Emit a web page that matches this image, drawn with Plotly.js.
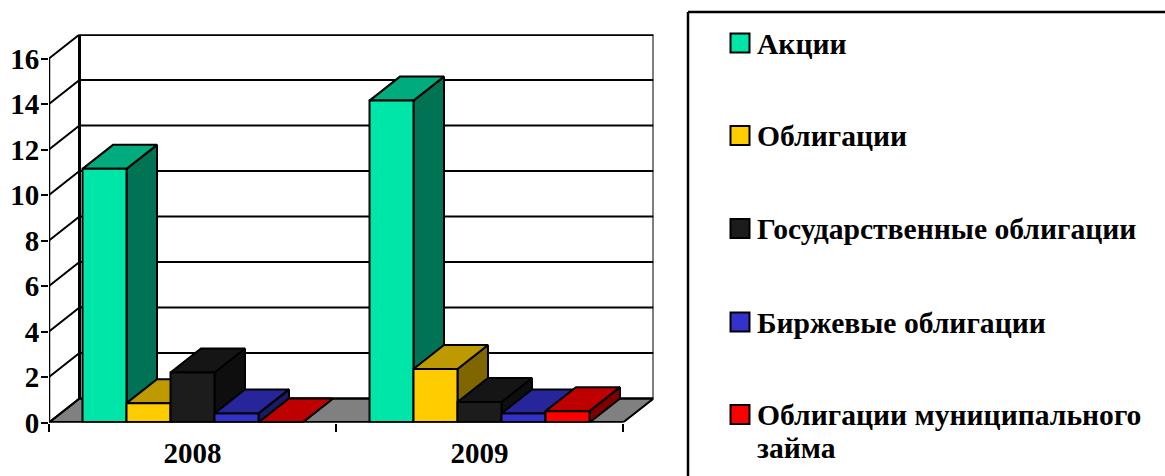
<!DOCTYPE html>
<html><head><meta charset="utf-8">
<script src="https://cdn.plot.ly/plotly-3.0.1.min.js"></script>
<style>html,body{margin:0;padding:0;background:#fff;overflow:hidden}</style>
</head><body><div id="chart" style="width:1165px;height:476px"></div>
<script>
const years = ['2008', '2009'];
const seriesNames = ['Акции', 'Облигации', 'Государственные облигации', 'Биржевые облигации', 'Облигации муниципального<br>займа'];
const aktsii = [11.15, 14.15];
const obligatsii = [0.85, 2.35];
const gosudarstvennye = [2.2, 0.9];
const birzhevye = [0.4, 0.4];
const munitsipalnye = [0, 0.5];
const seriesValues = [aktsii, obligatsii, gosudarstvennye, birzhevye, munitsipalnye];
const frontColors = ['#00E6A8', '#FFCC00', '#1C1C1C', '#3333CC', '#FF0000'];
const topColors = ['#00AC7E', '#BF9900', '#151515', '#26269A', '#BF0000'];
const sideColors = ['#007354', '#806600', '#0E0E0E', '#1A1A66', '#800000'];
const yTicks = [0, 2, 4, 6, 8, 10, 12, 14, 16];
const legendRows = [43, 135.5, 228.5, 322, 414.5];

const W = 1165, H = 476;
const left = 49, bottom = 422.5, catPx = 287, unitPx = 22.75, depthX = 30.5, depthY = 24;
const dx = depthX / catPx, dy = depthY / unitPx;
const xMax = years.length + dx, yMax = 16 + dy;
const barW = 44 / catPx;
const font = 'Liberation Serif, Times New Roman, serif';

function poly(xs, ys, fill, width) {
  return {type:'scatter', mode:'lines', x:xs, y:ys, fill:'toself', fillcolor:fill,
    line:{color:'#000', width:width||2}, hoverinfo:'skip', showlegend:false, cliponaxis:false};
}
function path(xs, ys, width, axes) {
  const t = {type:'scatter', mode:'lines', x:xs, y:ys, line:{color:'#000', width:width},
    hoverinfo:'skip', showlegend:false, cliponaxis:false};
  if (axes) { t.xaxis = 'x2'; t.yaxis = 'y2'; }
  return t;
}

const traces = [];
// floor
traces.push(poly([0, years.length, xMax, dx, 0], [0, 0, dy, dy, 0], '#808080', 2));
// back and side wall gridlines
const gx = [], gy = [];
yTicks.forEach(v => {
  gx.push(0, dx, xMax, null);
  gy.push(v, v + dy, v + dy, null);
});
traces.push(path(gx, gy, 2));
// walls' frame
traces.push(path([dx, dx], [dy, yMax], 3));
traces.push(path([dx, xMax], [yMax, yMax], 3));
traces.push(path([xMax, xMax], [dy, yMax], 2));

// depth faces, painted left to right
years.forEach((yr, j) => {
  seriesValues.forEach((vals, s) => {
    const x0 = j + 0.5 - 2.5 * barW + s * barW, x1 = x0 + barW, v = vals[j];
    traces.push(poly([x1, x1 + dx, x1 + dx, x1, x1], [0, dy, v + dy, v, 0], sideColors[s]));
    traces.push(poly([x0, x1, x1 + dx, x0 + dx, x0], [v, v, v + dy, v + dy, v], topColors[s]));
  });
});

// front faces on overlaid axes so they cover all depth faces
seriesValues.forEach((vals, s) => {
  traces.push({type:'bar', x:years.map((y, j) => j + 0.5), y:vals, name:seriesNames[s],
    xaxis:'x2', yaxis:'y2', cliponaxis:false, showlegend:false,
    marker:{color:frontColors[s], line:{color:'#000', width:2}}, hoverinfo:'skip'});
});
// front axis lines
traces.push(path([0, 0], [0, 16], 2.5, true));
traces.push(path([0, years.length], [0, 0], 3, true));

const dom = {x:[left / W, (left + catPx * years.length + depthX) / W],
             y:[1 - bottom / H, 1 - (bottom - unitPx * yMax) / H]};

const shapes = [
  {type:'line', xref:'paper', yref:'paper', x0:688/W, x1:1175/W, y0:1-12/H, y1:1-12/H, line:{color:'#000', width:2.5}},
  {type:'line', xref:'paper', yref:'paper', x0:688/W, x1:688/W, y0:1-12/H, y1:1-486/H, line:{color:'#000', width:2.5}}
];
const annotations = [];
seriesNames.forEach((n, i) => {
  const r = legendRows[i];
  shapes.push({type:'rect', xref:'paper', yref:'paper', x0:730.5/W, x1:749.5/W, y0:1-(r-9.5)/H, y1:1-(r+9.5)/H,
    fillcolor:frontColors[i], line:{color:'#000', width:2}});
  n.split('<br>').forEach((line, k) => {
    annotations.push({xref:'paper', yref:'paper', x:756/W, y:1-(r+0.5+k*33)/H, xanchor:'left', yanchor:'middle', align:'left',
      showarrow:false, text:'<b>' + line + '</b>', font:{family:font, size:29.6, color:'#000'}, borderpad:0});
  });
});

const layout = {
  width:W, height:H, margin:{l:0, r:0, t:0, b:0}, paper_bgcolor:'#fff', plot_bgcolor:'#fff',
  barmode:'group', bargap:1 - 5 * barW, bargroupgap:0, showlegend:false, shapes, annotations,
  xaxis:{domain:dom.x, range:[0, xMax], showgrid:false, zeroline:false, showline:false,
    tickmode:'array', tickvals:years.map((y, j) => j + 0.5), ticktext:years.map(y => '<b>' + y + '</b>'),
    ticks:'', ticklabelstandoff:10, tickfont:{family:font, size:29, color:'#000'},
    minor:{tickmode:'array', tickvals:years.map((y, j) => j).concat([years.length]), ticks:'outside', ticklen:8, tickwidth:2, tickcolor:'#000', showgrid:false}},
  yaxis:{domain:dom.y, range:[0, yMax], showgrid:false, zeroline:false, showline:false,
    tickmode:'array', tickvals:yTicks, ticktext:yTicks.map(v => '<b>' + v + '</b>'),
    ticks:'outside', ticklen:7, tickwidth:2, tickcolor:'#000', ticklabelstandoff:-4, tickfont:{family:font, size:29, color:'#000'}},
  xaxis2:{domain:dom.x, range:[0, xMax], overlaying:'x', anchor:'y2', visible:false},
  yaxis2:{domain:dom.y, range:[0, yMax], overlaying:'y', anchor:'x2', visible:false}
};
Plotly.newPlot('chart', traces, layout, {displayModeBar:false, staticPlot:true});
</script></body></html>
